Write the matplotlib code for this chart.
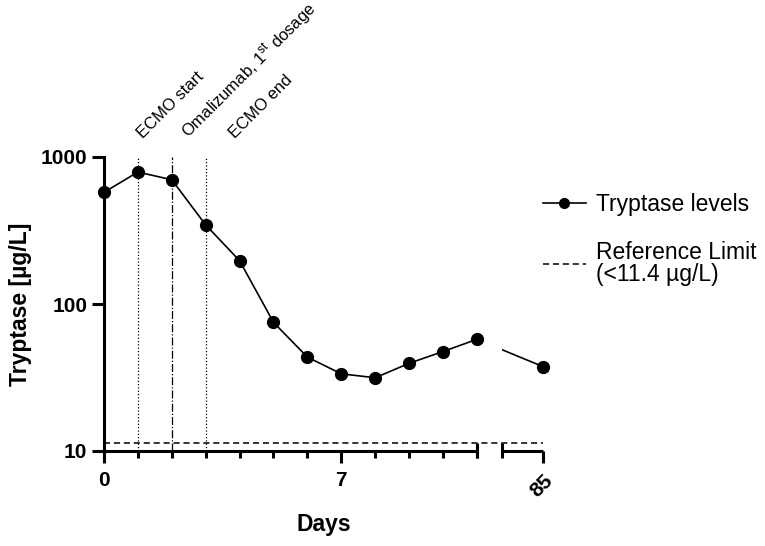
import numpy as np
import matplotlib
matplotlib.use("Agg")
from matplotlib import pyplot as plt
from matplotlib.lines import Line2D

plt.rcParams['font.family'] = ['Liberation Sans', 'DejaVu Sans']
plt.rcParams['mathtext.fontset'] = 'custom'
plt.rcParams['mathtext.rm'] = 'Liberation Sans'

# dados
dias = [0, 1, 2, 3, 4, 5, 6, 7, 8, 9, 10, 11, 85]
triptase = [575, 790, 700, 345, 197, 75, 43.5, 33.5, 31.5, 39.5, 47.5, 57.5, 37.5]
limite_ref = 11.4
eventos_dias = [1, 2, 3]
eventos_nomes = ['ECMO start', 'Omalizumab, 1$^{\\mathrm{st}}$ dosage', 'ECMO end']
eventos_estilos = [':', '-.', ':']
eventos_desloc = [4, 12, 21]
ticks_x = [0, 7, 85]
ticks_x_menores = [1, 2, 3, 4, 5, 6, 8, 9, 10, 11]
ticks_y = [10, 100, 1000]

# quebra do eixo x: dias 11 -> 83.8 comprimidos
quebra_ini = 11
quebra_fim = 83.8
dias_ref = [-100, 0, quebra_ini, quebra_fim, 85, 200]
pos_ref = [-100, 0, quebra_ini, 11.74, 12.95, 127.95]


def fwd(x):
    return np.interp(x, dias_ref, pos_ref)


def inv(p):
    return np.interp(p, pos_ref, dias_ref)


fig = plt.figure(figsize=(7.65, 5.46), dpi=100)
ax = fig.add_axes([104 / 765, 1 - 451 / 546, 439 / 765, 294 / 546])
ax.set_xscale('function', functions=(fwd, inv))
ax.set_yscale('log')

ax.plot(dias, triptase, color='k', lw=1.2, zorder=2)
ax.axvspan(quebra_ini, quebra_fim, color='white', zorder=2.5, lw=0)
ax.plot(dias, triptase, 'o', color='k', ms=8.5, zorder=4, clip_on=False)
ax.axhline(limite_ref, color='k', lw=1.1, ls=(0, (4, 2.5)), zorder=3)

for d, est in zip(eventos_dias, eventos_estilos):
    ax.axvline(d, color='k', lw=0.9, ls=est, zorder=1)

trans = ax.get_xaxis_transform()
for d, nome, dx in zip(eventos_dias, eventos_nomes, eventos_desloc):
    ax.annotate(nome, xy=(d, 1), xycoords=trans, xytext=(dx, 13), textcoords='offset points',
                rotation=45, rotation_mode='anchor', ha='left', va='baseline', fontsize=12)

ax.set_xlim(0, 85)
ax.set_ylim(10, 1000)

for s in ['top', 'right']:
    ax.spines[s].set_visible(False)
ax.spines['left'].set_linewidth(2.2)
ax.spines['bottom'].set_linewidth(2.2)
ax.spines['bottom'].set_bounds(0, quebra_ini)

# segundo trecho do eixo x e marcas da quebra
ax.plot([quebra_fim, 85], [0, 0], transform=trans, color='k', lw=2.2, clip_on=False,
        solid_capstyle='butt', zorder=5)
for xq in [quebra_ini, quebra_fim]:
    ax.plot([xq, xq], [-0.025, 0.028], transform=trans, color='k', lw=2.2, clip_on=False,
            solid_capstyle='butt', zorder=5)

ax.set_xticks(ticks_x)
ax.set_xticklabels([str(t) for t in ticks_x])
ax.set_xticks(ticks_x_menores, minor=True)
ax.set_yticks(ticks_y)
ax.set_yticklabels([str(t) for t in ticks_y])
ax.yaxis.set_minor_locator(matplotlib.ticker.NullLocator())

ax.tick_params(axis='x', which='major', length=8.6, width=2.2, pad=6, labelsize=15)
ax.tick_params(axis='x', which='minor', length=5, width=2.2)
ax.tick_params(axis='y', which='major', length=8.6, width=2.2, pad=3.5, labelsize=15)
for lbl in ax.get_xticklabels() + ax.get_yticklabels():
    lbl.set_fontweight('bold')
for lbl in ax.get_xticklabels():
    if lbl.get_text() == '85':
        lbl.set_rotation(45)
        lbl.set_ha('right')
        lbl.set_rotation_mode('anchor')

ax.set_xlabel('Days', fontsize=16.5, fontweight='bold')
ax.xaxis.set_label_coords(0.5, -0.21)
ax.set_ylabel('Tryptase [µg/L]', fontsize=16.5, fontweight='bold')
ax.yaxis.set_label_coords(-0.164, 0.5)

handles = [Line2D([], [], color='k', lw=1.2, marker='o', ms=7),
           Line2D([], [], color='k', lw=1.1, ls=(0, (4, 2.5)))]
labels = ['Tryptase levels', 'Reference Limit\n(<11.4 µg/L)']
leg = fig.legend(handles, labels, loc='upper left', bbox_to_anchor=(522 / 765, 1 - 172 / 546),
                 frameon=False, fontsize=16.5, handlelength=1.9, handletextpad=0.45,
                 labelspacing=1.1)
for t in leg.get_texts():
    t.set_linespacing(0.95)

plt.savefig('out.png', dpi=100)
plt.close()
